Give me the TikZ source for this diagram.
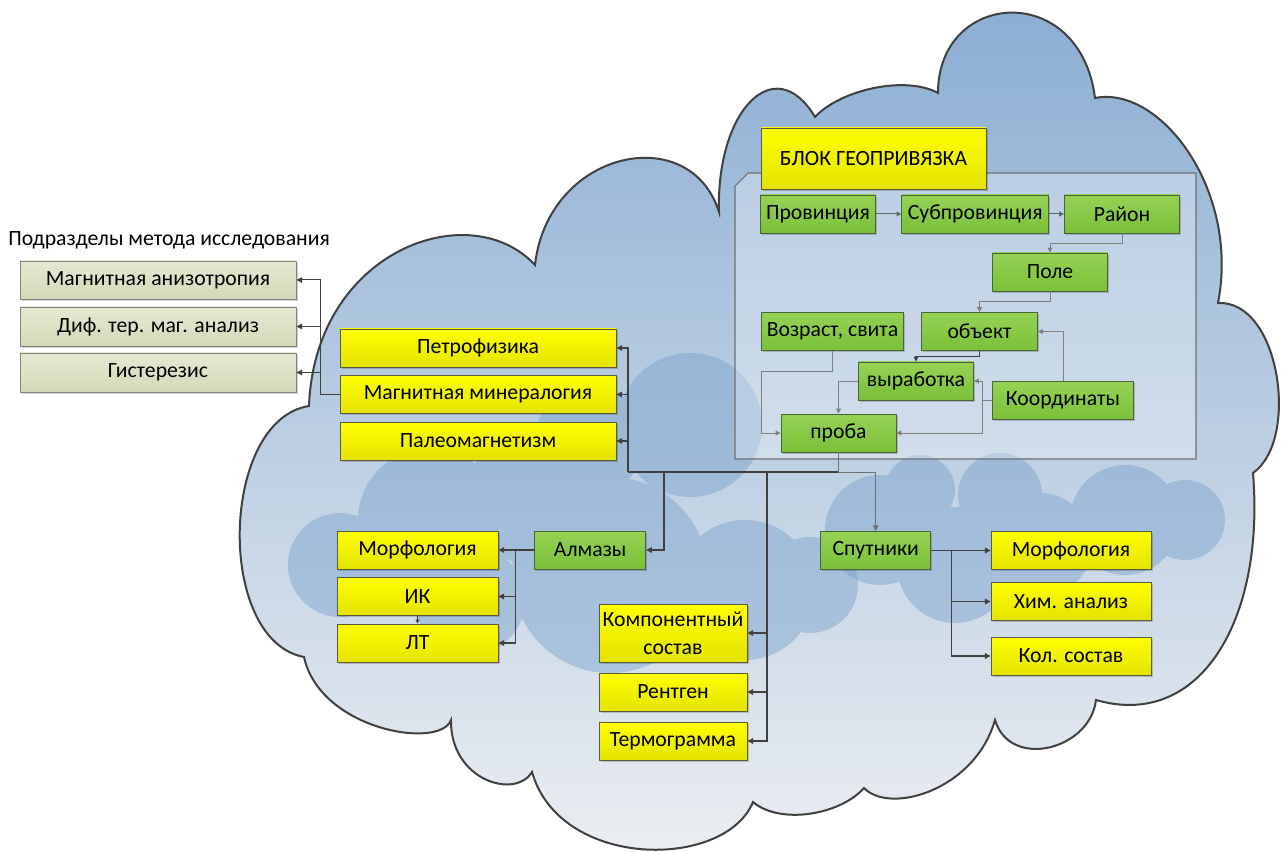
\documentclass[tikz,border=0pt]{standalone}
\usepackage{fontspec}
\setmainfont{Carlito}
\usetikzlibrary{arrows.meta,calc,shadows}
\definecolor{ytop}{RGB}{255,255,0}
\definecolor{ybot}{RGB}{228,228,0}
\definecolor{ybord}{RGB}{90,90,60}
\definecolor{gtop}{RGB}{150,210,85}
\definecolor{gbot}{RGB}{122,192,58}
\definecolor{gbord}{RGB}{75,100,55}
\definecolor{ltop}{RGB}{228,234,210}
\definecolor{lbot}{RGB}{210,218,184}
\definecolor{lbord}{RGB}{130,130,130}
\definecolor{cdark}{RGB}{64,64,64}
\definecolor{cgray}{RGB}{128,128,128}
\definecolor{cltop}{RGB}{136,172,210}
\definecolor{clmid}{RGB}{180,200,222}
\definecolor{clbot}{RGB}{237,239,242}
\definecolor{blobc}{RGB}{120,160,204}
\definecolor{pbord}{RGB}{110,110,110}
\def\cloudpath{(309,406) .. controls (315,250) and (470,195) .. (535,265)
 .. controls (548,150) and (690,120) .. (719,212)
 .. controls (716,110) and (775,50) .. (815,117)
 .. controls (840,90) and (905,75) .. (938,93)
 .. controls (938,-10) and (1080,-20) .. (1095,98)
 .. controls (1160,85) and (1240,190) .. (1218,303)
 .. controls (1280,300) and (1300,440) .. (1253,473)
 .. controls (1265,620) and (1200,730) .. (1096,700)
 .. controls (1090,750) and (1010,770) .. (995,720)
 .. controls (975,790) and (890,815) .. (864,788)
 .. controls (840,815) and (780,825) .. (753,802)
 .. controls (725,870) and (560,870) .. (532,772)
 .. controls (515,800) and (450,780) .. (451,720)
 .. controls (440,750) and (320,730) .. (304,657)
 .. controls (215,640) and (220,420) .. (309,406) -- cycle}
\begin{document}
\begin{tikzpicture}[x=0.75pt,y=-0.75pt,
  font=\fontsize{16.3}{21}\selectfont,
  sz/.style 2 args={minimum width={#1*0.75pt},minimum height={#2*0.75pt}},
  box/.style={draw, rectangle, inner sep=0pt, line width=0.7pt, align=center,
    general shadow={fill=black, opacity=0.18, shadow xshift=1.2pt, shadow yshift=-1.2pt}},
  ybox/.style={box, draw=ybord, top color=ytop, bottom color=ybot},
  gbox/.style={box, draw=gbord, top color=gtop, bottom color=gbot},
  lbox/.style={box, draw=lbord, top color=ltop, bottom color=lbot},
  conn/.style={draw=cdark, line width=0.9pt},
  arr/.style={conn, -{Triangle[length=4.2pt,width=4.2pt]}},
  gconn/.style={draw=cgray, line width=0.75pt},
  garr/.style={gconn, -{Triangle[length=3.6pt,width=3.6pt]}},
]
\useasboundingbox (0,0) rectangle (1282,852);
% cloud
\shade[top color=cltop, middle color=clmid, bottom color=clbot] \cloudpath;
\begin{scope}
\clip \cloudpath;
\fill[blobc, opacity=0.45]
  (340,565) circle[radius=52] (430,520) circle[radius=72] (540,495) circle[radius=72]
  (470,600) circle[radius=55] (610,575) circle[radius=98] (690,425) circle[radius=72]
  (745,590) circle[radius=70] (810,585) circle[radius=48] (590,440) circle[radius=55];
\fill[blobc, opacity=0.45]
  (880,530) circle[radius=55] (955,565) circle[radius=58] (1040,545) circle[radius=52]
  (1125,520) circle[radius=55] (1185,520) circle[radius=40] (1000,495) circle[radius=42]
  (920,490) circle[radius=35];
\end{scope}
\draw[cdark, line width=1.5pt] \cloudpath;
% panel
\path[draw=pbord, fill=white, fill opacity=0.3, line width=0.8pt] (748,173) -- (1196,173) -- (1196,459) -- (735,459) -- (735,186) -- cycle;
% left
\node[anchor=west, inner sep=0pt] (title) at (8,240) {Подразделы метода исследования};
\node[lbox, sz={276}{38}] (ma) at (158,280) {Магнитная анизотропия};
\node[lbox, sz={276}{39}] (dtma) at (158,326.5) {Диф. тер. маг. анализ};
\node[lbox, sz={276}{39}] (gist) at (158,372.5) {Гистерезис};
% yellow
\node[ybox, sz={276}{38}] (petro) at (478,348) {Петрофизика};
\node[ybox, sz={276}{38}] (magmin) at (478,394.5) {Магнитная минералогия};
\node[ybox, sz={276}{38}] (paleo) at (478,441) {Палеомагнетизм};
\node[ybox, sz={225}{61}] (blok) at (873.5,158.5) {БЛОК ГЕОПРИВЯЗКА};
\node[ybox, sz={161}{38}] (morf1) at (417.5,550) {Морфология};
\node[ybox, sz={161}{38}] (ik) at (417.5,596.5) {ИК};
\node[ybox, sz={161}{38}] (lt) at (417.5,643) {ЛТ};
\node[ybox, sz={148}{58}] (komp) at (673,633) {Компонентный\\состав};
\node[ybox, sz={148}{38}] (rent) at (673,692) {Рентген};
\node[ybox, sz={148}{38}] (term) at (673,741) {Термограмма};
\node[ybox, sz={160}{38}] (morf2) at (1071,550.5) {Морфология};
\node[ybox, sz={160}{38}] (him) at (1071,601.5) {Хим. анализ};
\node[ybox, sz={160}{38}] (kol) at (1071,656) {Кол. состав};
% green
\node[gbox, sz={115}{38}] (prov) at (818,214) {Провинция};
\node[gbox, sz={147}{38}] (subprov) at (975.3,214) {Субпровинция};
\node[gbox, sz={115}{38}] (rayon) at (1122,214) {Район};
\node[gbox, sz={115}{38}] (pole) at (1050,272) {Поле};
\node[gbox, sz={142}{38}] (vozr) at (832.5,331.5) {Возраст, свита};
\node[gbox, sz={116}{38}] (obj) at (979.5,331.5) {объект};
\node[gbox, sz={115}{38}] (vyr) at (916,381) {выработка};
\node[gbox, sz={141}{38}] (koord) at (1063,400.4) {Координаты};
\node[gbox, sz={115}{38}] (proba) at (838.5,433) {проба};
\node[gbox, sz={111}{38}] (almaz) at (590.2,550) {Алмазы};
\node[gbox, sz={110}{38}] (sput) at (875.7,550.5) {Спутники};
% main bus
\coordinate (busL) at (628,472);
\coordinate (busA) at (664,472);
\coordinate (busK) at (767,472);
\coordinate (busR) at (sput.north |- busL);
\draw[conn] (proba.south) |- (busL);
\draw[arr] (busL) |- (petro.east);
\draw[arr] (busL) |- (magmin.east);
\draw[arr] (busL) |- (paleo.east);
\draw[arr] (busA) |- (almaz.east);
\draw[arr] (busK) |- (komp.east);
\draw[arr] (busK) |- (rent.east);
\draw[arr] (busK) |- (term.east);
\draw[arr, draw=cdark!75, line width=0.75pt] (proba.south) |- (busR) -- (sput.north);
% left group
\coordinate (lj) at ($(magmin.west)+(-19,0)$);
\draw[conn, line width=0.75pt] (magmin.west) -- (lj);
\draw[arr, line width=0.75pt] (lj) |- (ma.east);
\draw[arr, line width=0.75pt] (lj) |- (dtma.east);
\draw[arr, line width=0.75pt] (lj) |- (gist.east);
% almaz group
\coordinate (aj) at ($(almaz.west)+(-19,0)$);
\draw[arr] (almaz.west) -- (morf1.east);
\draw[arr] (aj) |- (ik.east);
\draw[arr] (aj) |- (lt.east);
\draw[conn, line width=0.6pt, -{Triangle[length=3pt,width=3pt]}] (ik.south) -- (lt.north);
% sput group
\coordinate (sj) at ($(sput.east)+(20,0)$);
\draw[arr] (sput.east) -- (morf2.west);
\draw[arr] (sj) |- (him.west);
\draw[arr] (sj) |- (kol.west);
% block group
\draw[garr, draw=cdark!80] (prov.east) -- (subprov.west);
\draw[garr, draw=cdark!80] (subprov.east) -- (rayon.west);
\draw[garr] (rayon.south) -- ++(0,10) -| (pole.north);
\draw[garr] (pole.south) -- ++(0,10) -| (obj.north);
\draw[conn, line width=0.8pt, -{Triangle[length=3.5pt,width=3.5pt]}] (obj.south) -- ++(0,6) -| (vyr.north);
\draw[garr] (koord.north) |- (obj.east);
\coordinate (kj) at ($(koord.west)+(-10,0)$);
\draw[gconn] (koord.west) -- (kj);
\draw[garr] (kj) |- (vyr.east);
\draw[garr] (kj) |- (proba.east);
\coordinate (vj) at ($(proba.west)+(-19,0)$);
\draw[garr] (vozr.south) -- ++(0,21) -| (vj) -- (proba.west);
\draw[garr] (vyr.west) -| (proba.north);
\end{tikzpicture}
\end{document}
